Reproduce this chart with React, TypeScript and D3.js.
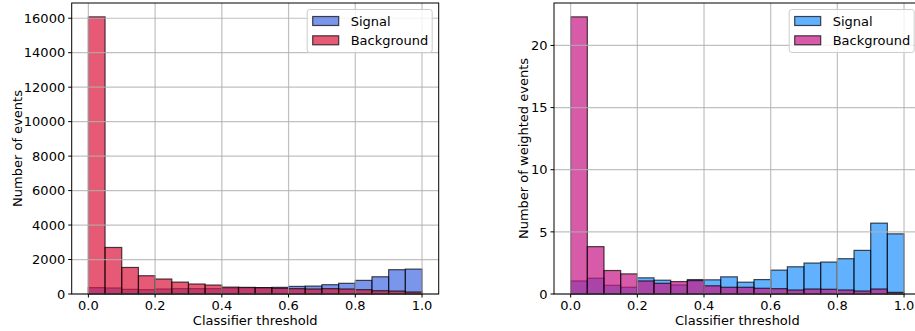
import React from "react";
import * as d3 from "d3";

// Classifier output histograms: 20 bins of width 0.05 on [0, 1]
const binEdges = [0, 0.05, 0.1, 0.15, 0.2, 0.25, 0.3, 0.35, 0.4, 0.45, 0.5, 0.55, 0.6, 0.65, 0.7, 0.75, 0.8, 0.85, 0.9, 0.95, 1.0];

const xTicks = [0, 0.2, 0.4, 0.6, 0.8, 1.0];

// Raw event counts
const countsSignal = [370, 350, 270, 250, 290, 310, 310, 310, 350, 360, 370, 385, 440, 460, 540, 620, 790, 1000, 1410, 1445];
const countsBackground = [16080, 2700, 1540, 1060, 870, 690, 580, 520, 400, 385, 365, 330, 310, 290, 310, 290, 250, 190, 170, 115];
const countsYTicks = [0, 2000, 4000, 6000, 8000, 10000, 12000, 14000, 16000];

// Weighted event counts
const weightedSignal = [1.05, 1.27, 0.7, 0.54, 1.3, 1.11, 0.73, 1.16, 1.14, 1.38, 0.95, 1.16, 1.92, 2.19, 2.49, 2.57, 2.84, 3.51, 5.7, 4.84];
const weightedBackground = [22.3, 3.81, 1.89, 1.62, 1.05, 0.86, 1.0, 1.08, 0.66, 0.54, 0.54, 0.46, 0.43, 0.32, 0.4, 0.38, 0.32, 0.24, 0.4, 0.13];
const weightedYTicks = [0, 5, 10, 15, 20];

const FONT = "'DejaVu Sans', sans-serif";
const FS = 13;

type PanelProps = {
  left: number;
  right: number;
  top: number;
  bottom: number;
  signal: number[];
  background: number[];
  yTicks: number[];
  yLabel: string;
  yLabelX: number;
  signalColor: string;
  backgroundColor: string;
};

function Panel(p: PanelProps) {
  const x = d3
    .scaleLinear()
    .domain([-0.05, 1.05])
    .range([p.left, p.right]);
  const yMax = d3.max([...p.signal, ...p.background]) as number;
  const y = d3
    .scaleLinear()
    .domain([0, yMax * 1.05])
    .range([p.bottom, p.top]);

  const bars = (vals: number[], color: string, key: string) =>
    vals.map((v, i) => (
      <rect
        key={key + i}
        x={x(binEdges[i])}
        y={y(v)}
        width={x(binEdges[i + 1]) - x(binEdges[i])}
        height={y(0) - y(v)}
        fill={color}
        fillOpacity={0.7}
        stroke="#000"
        strokeOpacity={0.7}
        strokeWidth={1.2}
      />
    ));

  const legendW = 125;
  const legendH = 43;
  const lx = p.right - 6.5 - legendW;
  const ly = p.top + 6.5;
  const entries = [
    { label: "Signal", color: p.signalColor },
    { label: "Background", color: p.backgroundColor },
  ];

  const midY = (p.top + p.bottom) / 2;

  return (
    <g>
      {bars(p.signal, p.signalColor, "s")}
      {bars(p.background, p.backgroundColor, "b")}
      {/* grid */}
      {xTicks.map((t) => (
        <line
          key={"gx" + t}
          x1={x(t)}
          x2={x(t)}
          y1={p.top}
          y2={p.bottom}
          stroke="#b0b0b0"
          strokeOpacity={0.8}
          strokeWidth={1.2}
        />
      ))}
      {p.yTicks.map((t) => (
        <line
          key={"gy" + t}
          x1={p.left}
          x2={p.right}
          y1={y(t)}
          y2={y(t)}
          stroke="#b0b0b0"
          strokeOpacity={0.8}
          strokeWidth={1.2}
        />
      ))}
      {/* spines */}
      <rect
        x={p.left}
        y={p.top}
        width={p.right - p.left}
        height={p.bottom - p.top}
        fill="none"
        stroke="#000"
        strokeWidth={1}
      />
      {/* x ticks */}
      {xTicks.map((t) => (
        <g key={"xt" + t}>
          <line x1={x(t)} x2={x(t)} y1={p.bottom} y2={p.bottom + 3.5} stroke="#000" strokeWidth={1} />
          <text
            x={x(t)}
            y={p.bottom + 15.5}
            textAnchor="middle"
            fontFamily={FONT}
            fontSize={FS}
            fill="#000"
          >
            {d3.format(".1f")(t)}
          </text>
        </g>
      ))}
      {/* y ticks */}
      {p.yTicks.map((t) => (
        <g key={"yt" + t}>
          <line x1={p.left - 3.5} x2={p.left} y1={y(t)} y2={y(t)} stroke="#000" strokeWidth={1} />
          <text
            x={p.left - 6.5}
            y={y(t) + 4.7}
            textAnchor="end"
            fontFamily={FONT}
            fontSize={FS}
            fill="#000"
          >
            {String(t)}
          </text>
        </g>
      ))}
      <text
        x={(x(0) + x(1)) / 2}
        y={p.bottom + 31}
        textAnchor="middle"
        fontFamily={FONT}
        fontSize={FS}
        fill="#000"
      >
        Classifier threshold
      </text>
      <text
        transform={`translate(${p.yLabelX},${midY}) rotate(-90)`}
        textAnchor="middle"
        fontFamily={FONT}
        fontSize={FS}
        fill="#000"
      >
        {p.yLabel}
      </text>
      {/* legend */}
      <rect
        x={lx}
        y={ly}
        width={legendW}
        height={legendH}
        rx={2.5}
        fill="#fff"
        fillOpacity={0.8}
        stroke="#cccccc"
        strokeWidth={1}
      />
      {entries.map((e, i) => {
        const cy = ly + 11.5 + i * 19.3;
        return (
          <g key={e.label}>
            <rect
              x={lx + 5.5}
              y={cy - 4.5}
              width={26}
              height={9}
              fill={e.color}
              fillOpacity={0.7}
              stroke="#000"
              strokeOpacity={0.7}
              strokeWidth={1.2}
            />
            <text
              x={lx + 43.5}
              y={cy + 4.6}
              fontFamily={FONT}
              fontSize={FS}
              fill="#000"
            >
              {e.label}
            </text>
          </g>
        );
      })}
    </g>
  );
}

export default function App() {
  return (
    <svg
      width={915}
      height={331}
      style={{ position: "absolute", left: 0, top: 0, background: "#fff" }}
    >
      <Panel
        left={71.7}
        right={438.7}
        top={3}
        bottom={294}
        signal={countsSignal}
        background={countsBackground}
        yTicks={countsYTicks}
        yLabel="Number of events"
        yLabelX={21.5}
        signalColor="royalblue"
        backgroundColor="crimson"
      />
      <Panel
        left={554}
        right={920.7}
        top={3}
        bottom={294}
        signal={weightedSignal}
        background={weightedBackground}
        yTicks={weightedYTicks}
        yLabel="Number of weighted events"
        yLabelX={528}
        signalColor="dodgerblue"
        backgroundColor="mediumvioletred"
      />
    </svg>
  );
}
